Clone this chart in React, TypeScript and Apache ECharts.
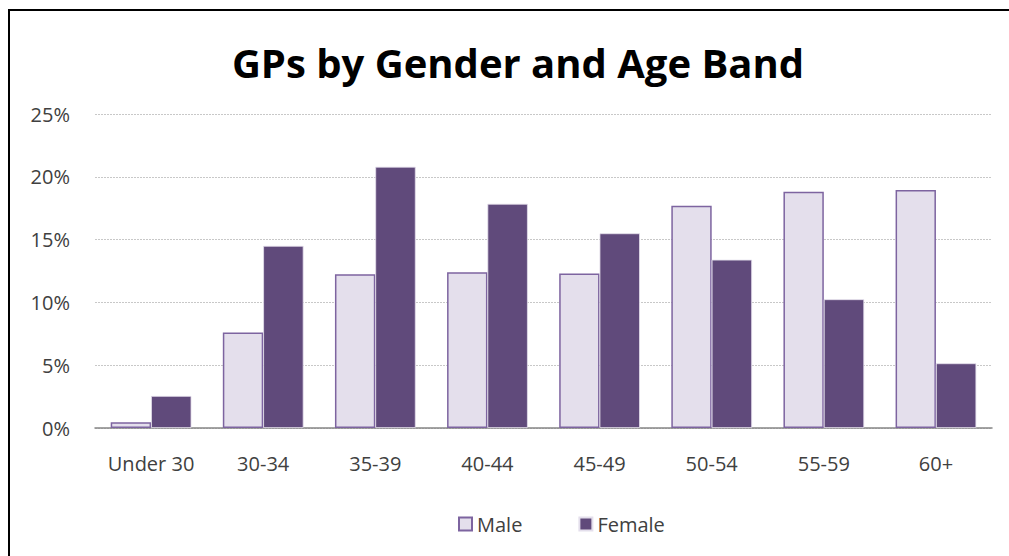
import React, { useEffect, useRef } from "react";
import * as echarts from "echarts";

const categories = ["Under 30", "30-34", "35-39", "40-44", "45-49", "50-54", "55-59", "60+"];
const maleValues = [0.45, 7.6, 12.25, 12.4, 12.3, 17.7, 18.8, 18.95];
const femaleValues = [2.55, 14.5, 20.8, 17.85, 15.5, 13.4, 10.25, 5.15];
const yTicks = { min: 0, max: 25, interval: 5 };
const titleText = "GPs by Gender and Age Band";

export default function App() {
  const ref = useRef<HTMLDivElement>(null);
  useEffect(() => {
    if (!ref.current) return;
    const chart = echarts.init(ref.current, null, { renderer: "svg" });
    const font = "'Open Sans', 'DejaVu Sans', sans-serif";
    chart.setOption({
      animation: false,
      backgroundColor: "#ffffff",
      title: {
        text: titleText,
        left: 513,
        top: 37,
        textAlign: "center",
        textStyle: {
          fontFamily: "'Open Sans', sans-serif",
          fontWeight: "bold",
          fontSize: 40,
          color: "#000000",
        },
      },
      graphic: [
        {
          type: "rect",
          shape: { x: 9, y: 10, width: 1100, height: 600 },
          style: { fill: "none", stroke: "#000000", lineWidth: 2 },
          silent: true,
        },
      ],
      legend: {
        left: 453,
        top: 509,
        icon: "rect",
        itemWidth: 13,
        itemHeight: 13,
        itemGap: 56,
        textStyle: { fontFamily: font, fontSize: 20, color: "#404040" },
        data: ["Male", "Female"],
      },
      grid: { left: 95, right: 17, top: 114, bottom: 128 },
      xAxis: {
        type: "category",
        data: categories,
        axisLine: { lineStyle: { color: "#868686", width: 1.5 } },
        axisTick: { show: false },
        axisLabel: { interval: 0, fontFamily: font, fontSize: 20, color: "#404040", margin: 25 },
      },
      yAxis: {
        type: "value",
        min: yTicks.min,
        max: yTicks.max,
        interval: yTicks.interval,
        axisLine: { show: false },
        axisTick: { show: false },
        axisLabel: {
          formatter: "{value}%",
          fontFamily: font,
          fontSize: 20,
          color: "#404040",
          margin: 25,
        },
        splitLine: { lineStyle: { color: "#c8c8c8", type: [2, 1], width: 1 } },
      },
      series: [
        {
          name: "Male",
          type: "bar",
          data: maleValues,
          barCategoryGap: "28%",
          barGap: "0%",
          itemStyle: { color: "#E4DFEC", borderColor: "#7D64A0", borderWidth: 1.5 },
        },
        {
          name: "Female",
          type: "bar",
          data: femaleValues,
          itemStyle: { color: "#604A7B", borderColor: "#E4DFEC", borderWidth: 0.8 },
        },
      ],
    });
    return () => chart.dispose();
  }, []);
  return (
    <div
      ref={ref}
      style={{ position: "absolute", left: 0, top: 0, width: 1009, height: 556 }}
    />
  );
}
